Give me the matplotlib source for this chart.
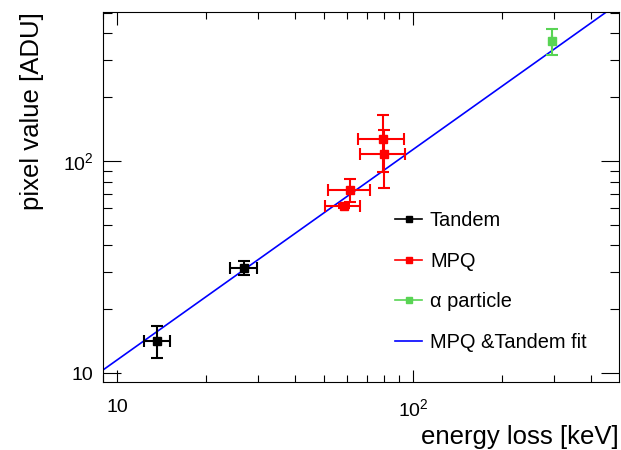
import matplotlib
matplotlib.use("Agg")
import matplotlib.pyplot as plt
import numpy as np
from matplotlib.ticker import FixedLocator, FuncFormatter, NullFormatter
from matplotlib.lines import Line2D

plt.rcParams['font.family'] = ['Liberation Sans', 'DejaVu Sans']
plt.rcParams['mathtext.fontset'] = 'custom'
plt.rcParams['mathtext.rm'] = 'Liberation Sans'
plt.rcParams['mathtext.it'] = 'Liberation Sans:italic'

# ---- data ----
tandem_x = [13.7, 26.9]
tandem_xerr = [1.4, 2.8]
tandem_y = [14.2, 31.4]
tandem_yerr = [2.4, 2.5]

mpq_x = [58.5, 61.5, 79.1, 80.0]
mpq_xerr = [8.0, 10.0, 14.0, 14.0]
mpq_y = [61.5, 73.4, 127.0, 107.5]
mpq_yerr = [1.5, 9.0, 38.0, 33.0]

alpha_x = [296.0]
alpha_xerr = [0.0]
alpha_y = [369.0]
alpha_yerr = [52.0]

fit_a = 1.17
fit_b = 0.993

xlim = (8.97, 497.0)
ylim = (9.07, 505.0)

labels = ["Tandem", "MPQ", "\u03b1 particle", "MPQ &Tandem fit"]
xlabel = "energy loss [keV]"
ylabel = "pixel value [ADU]"

c_black = "#000000"
c_red = "#ff0000"
c_green = "#59d454"
c_blue = "#0000ff"

fig = plt.figure(figsize=(6.21, 4.5), dpi=100)
ax = fig.add_axes([103/621, 1-382/450, (619-103)/621, (382-12)/450])
ax.set_xscale('log')
ax.set_yscale('log')
ax.set_xlim(*xlim)
ax.set_ylim(*ylim)

xf = np.logspace(np.log10(xlim[0]), np.log10(xlim[1]), 200)
ax.plot(xf, fit_a * xf**fit_b, color=c_blue, lw=1.2, zorder=2)

ekw = dict(fmt='s', ms=5.5, elinewidth=1.5, capsize=4.3, capthick=1.5, zorder=3)
ax.errorbar(tandem_x, tandem_y, xerr=tandem_xerr, yerr=tandem_yerr, color=c_black, **ekw)
ax.errorbar(mpq_x, mpq_y, xerr=mpq_xerr, yerr=mpq_yerr, color=c_red, **ekw)
ax.errorbar(alpha_x, alpha_y, xerr=alpha_xerr, yerr=alpha_yerr, color=c_green, **ekw)

# ticks
ax.xaxis.set_major_locator(FixedLocator([10, 100]))
ax.yaxis.set_major_locator(FixedLocator([10, 100]))
minors = [v * d for d in (1, 10, 100) for v in range(2, 10)]
ax.xaxis.set_minor_locator(FixedLocator(minors))
ax.yaxis.set_minor_locator(FixedLocator(minors))
fmt = FuncFormatter(lambda v, p: "10" if abs(v - 10) < 1e-6 else r"$10^{%d}$" % round(np.log10(v)))
ax.xaxis.set_major_formatter(fmt)
ax.yaxis.set_major_formatter(fmt)
ax.xaxis.set_minor_formatter(NullFormatter())
ax.yaxis.set_minor_formatter(NullFormatter())
ax.tick_params(axis='both', which='both', direction='in', top=True, right=True, width=0.8, labelsize=14)
ax.tick_params(axis='x', which='major', length=9, pad=12)
ax.tick_params(axis='x', which='minor', length=5)
ax.tick_params(axis='y', which='major', length=13, pad=7)
ax.tick_params(axis='y', which='minor', length=6.5)
for s in ax.spines.values():
    s.set_linewidth(0.8)

ax.set_xlabel(xlabel, fontsize=18.5, loc='right', labelpad=3)
ax.set_ylabel(ylabel, fontsize=18.5, loc='top', labelpad=13)

handles = [
    Line2D([], [], color=c_black, marker='s', ms=4.5, lw=1.2),
    Line2D([], [], color=c_red, marker='s', ms=4.5, lw=1.2),
    Line2D([], [], color=c_green, marker='s', ms=4.5, lw=1.2),
    Line2D([], [], color=c_blue, lw=1.2),
]
ax.legend(handles, labels, loc='upper left', bbox_to_anchor=((395-103)/516, (382-211)/370),
          frameon=False, fontsize=14.4, handlelength=1.35, handletextpad=0.4,
          labelspacing=1.08, borderaxespad=0, borderpad=0)

fig.savefig("out.png", dpi=100)
